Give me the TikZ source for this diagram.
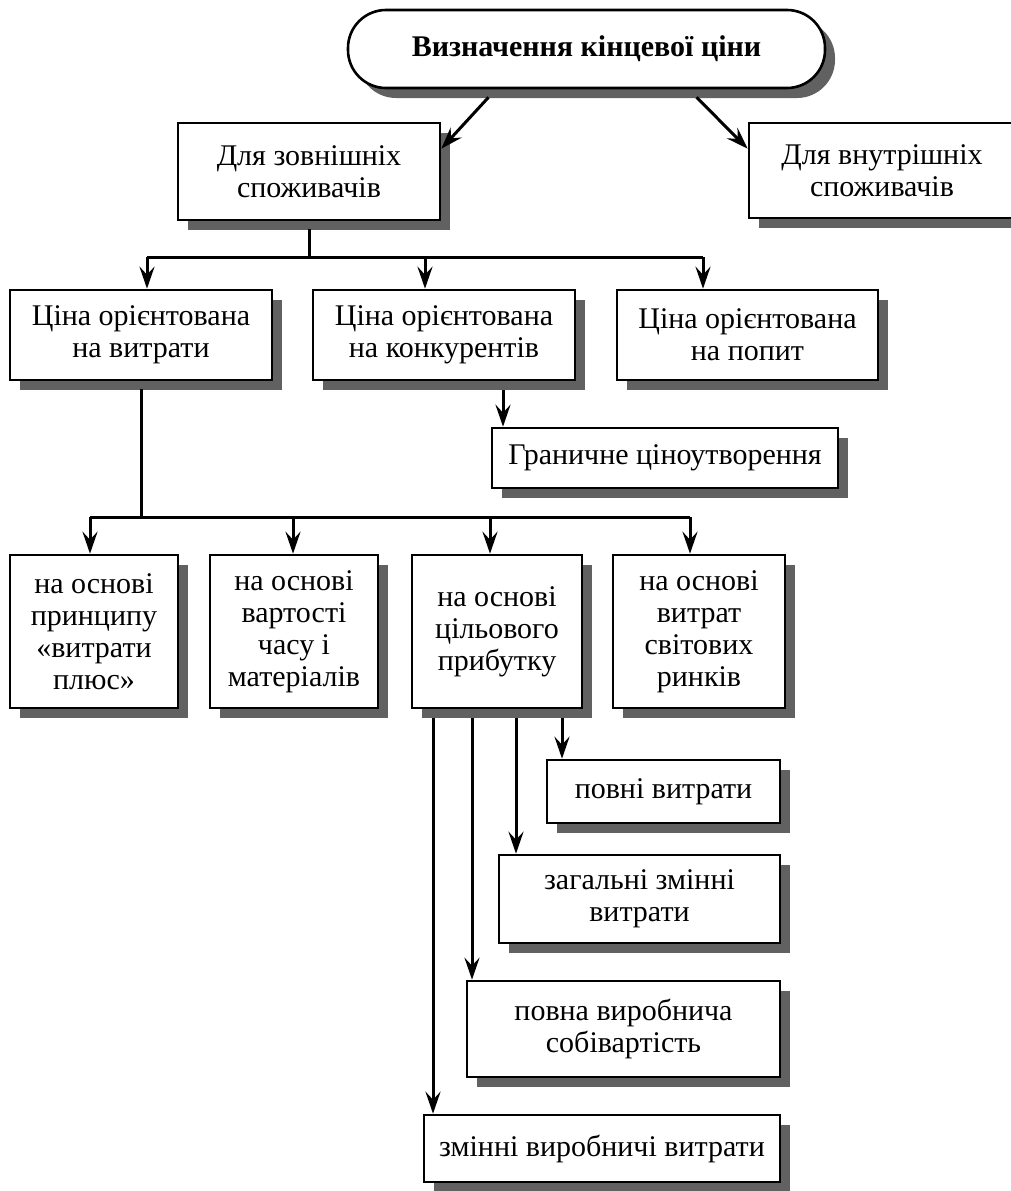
\documentclass[tikz,border=0pt]{standalone}
\usepackage{fontspec}
\setmainfont{Liberation Serif}
\usetikzlibrary{arrows.meta,shadows}

\tikzset{
  box/.style={rectangle, draw=black, line width=2.6pt, fill=white, align=center,
    inner sep=2pt, font=\fontsize{30}{32}\selectfont,
    general shadow={fill=black!62, shadow xshift=10pt, shadow yshift=-10pt}},
  titlebox/.style={box, rounded corners=38pt, font=\bfseries\fontsize{30}{32}\selectfont},
  link/.style={line width=3pt},
  arr/.style={line width=3pt, -{Stealth[length=22pt, width=15pt, inset=8pt]}}
}

\begin{document}
\begin{tikzpicture}[x=1pt, y=-1pt]
\useasboundingbox (0,0) rectangle (1011,1191);

% top level
\node[titlebox, minimum width=477pt, minimum height=78pt] (top) at (586.5,49) {Визначення кінцевої ціни};
\node[box, minimum width=262pt, minimum height=97pt] (ext) at (309,171.5) {Для зовнішніх\\споживачів};
\node[box, minimum width=266pt, minimum height=95pt] (int) at (882,170.5) {Для внутрішніх\\споживачів};

% pricing orientation
\node[box, minimum width=262pt, minimum height=90pt] (c1) at (141,335) {Ціна орієнтована\\на витрати};
\node[box, minimum width=262pt, minimum height=90pt] (c2) at (444,335) {Ціна орієнтована\\на конкурентів};
\node[box, minimum width=261pt, minimum height=90pt] (c3) at (747.5,335) {Ціна орієнтована\\на попит};
\node[box, minimum width=346pt, minimum height=60pt] (marg) at (665,458) {Граничне ціноутворення};

% cost-based methods
\node[box, minimum width=168pt, minimum height=153pt] (b1) at (94,631.5) {на основі\\принципу\\«витрати\\плюс»};
\node[box, minimum width=168pt, minimum height=153pt] (b2) at (294,631.5) {на основі\\вартості\\часу і\\матеріалів};
\node[box, minimum width=170pt, minimum height=153pt] (b3) at (497,631.5) {на основі\\цільового\\прибутку};
\node[box, minimum width=172pt, minimum height=153pt] (b4) at (699,631.5) {на основі\\витрат\\світових\\ринків};

% cost bases for target profit
\node[box, minimum width=233pt, minimum height=63pt] (f1) at (663.5,791.5) {повні витрати};
\node[box, minimum width=281pt, minimum height=88pt] (f2) at (639.5,899) {загальні змінні\\витрати};
\node[box, minimum width=313pt, minimum height=96pt] (f3) at (623.5,1029) {повна виробнича\\собівартість};
\node[box, minimum width=356pt, minimum height=67pt] (f4) at (602,1148.5) {змінні виробничі витрати};

% top arrows
\draw[arr] ([shift={(-98,8)}]top.south) -- ([yshift=-27pt]ext.north east);
\draw[arr] ([shift={(110,8)}]top.south) -- ([yshift=-27pt]int.north west);

% bus below external consumers
\coordinate (busL) at (147,257);
\coordinate (busM) at (425,257);
\coordinate (busR) at (703,257);
\draw[link] ([yshift=-8pt]ext.south) -- (ext.south |- busL);
\draw[link] (busL) -- (busR);
\draw[arr] (busL) -- (busL |- c1.north);
\draw[arr] (busM) -- (busM |- c2.north);
\draw[arr] (busR) -- (busR |- c3.north);

% competitors -> marginal pricing
\coordinate (m1) at (503,390);
\draw[arr] (m1) -- (m1 |- marg.north);

% bus below cost-oriented price
\coordinate (busA) at (90,517);
\coordinate (busB) at (293,517);
\coordinate (busC) at (490,517);
\coordinate (busD) at (690,517);
\draw[link] ([yshift=-8pt]c1.south) -- (c1.south |- busA);
\draw[link] (busA) -- (busD);
\draw[arr] (busA) -- (busA |- b1.north);
\draw[arr] (busB) -- (busB |- b2.north);
\draw[arr] (busC) -- (busC |- b3.north);
\draw[arr] (busD) -- (busD |- b4.north);

% branches from target profit
\coordinate (t1) at (562,718);
\coordinate (t2) at (516,718);
\coordinate (t3) at (472,718);
\coordinate (t4) at (433,718);
\draw[arr] (t1) -- (t1 |- f1.north);
\draw[arr] (t2) -- (t2 |- f2.north);
\draw[arr] (t3) -- (t3 |- f3.north);
\draw[arr] (t4) -- (t4 |- f4.north);
\end{tikzpicture}
\end{document}
